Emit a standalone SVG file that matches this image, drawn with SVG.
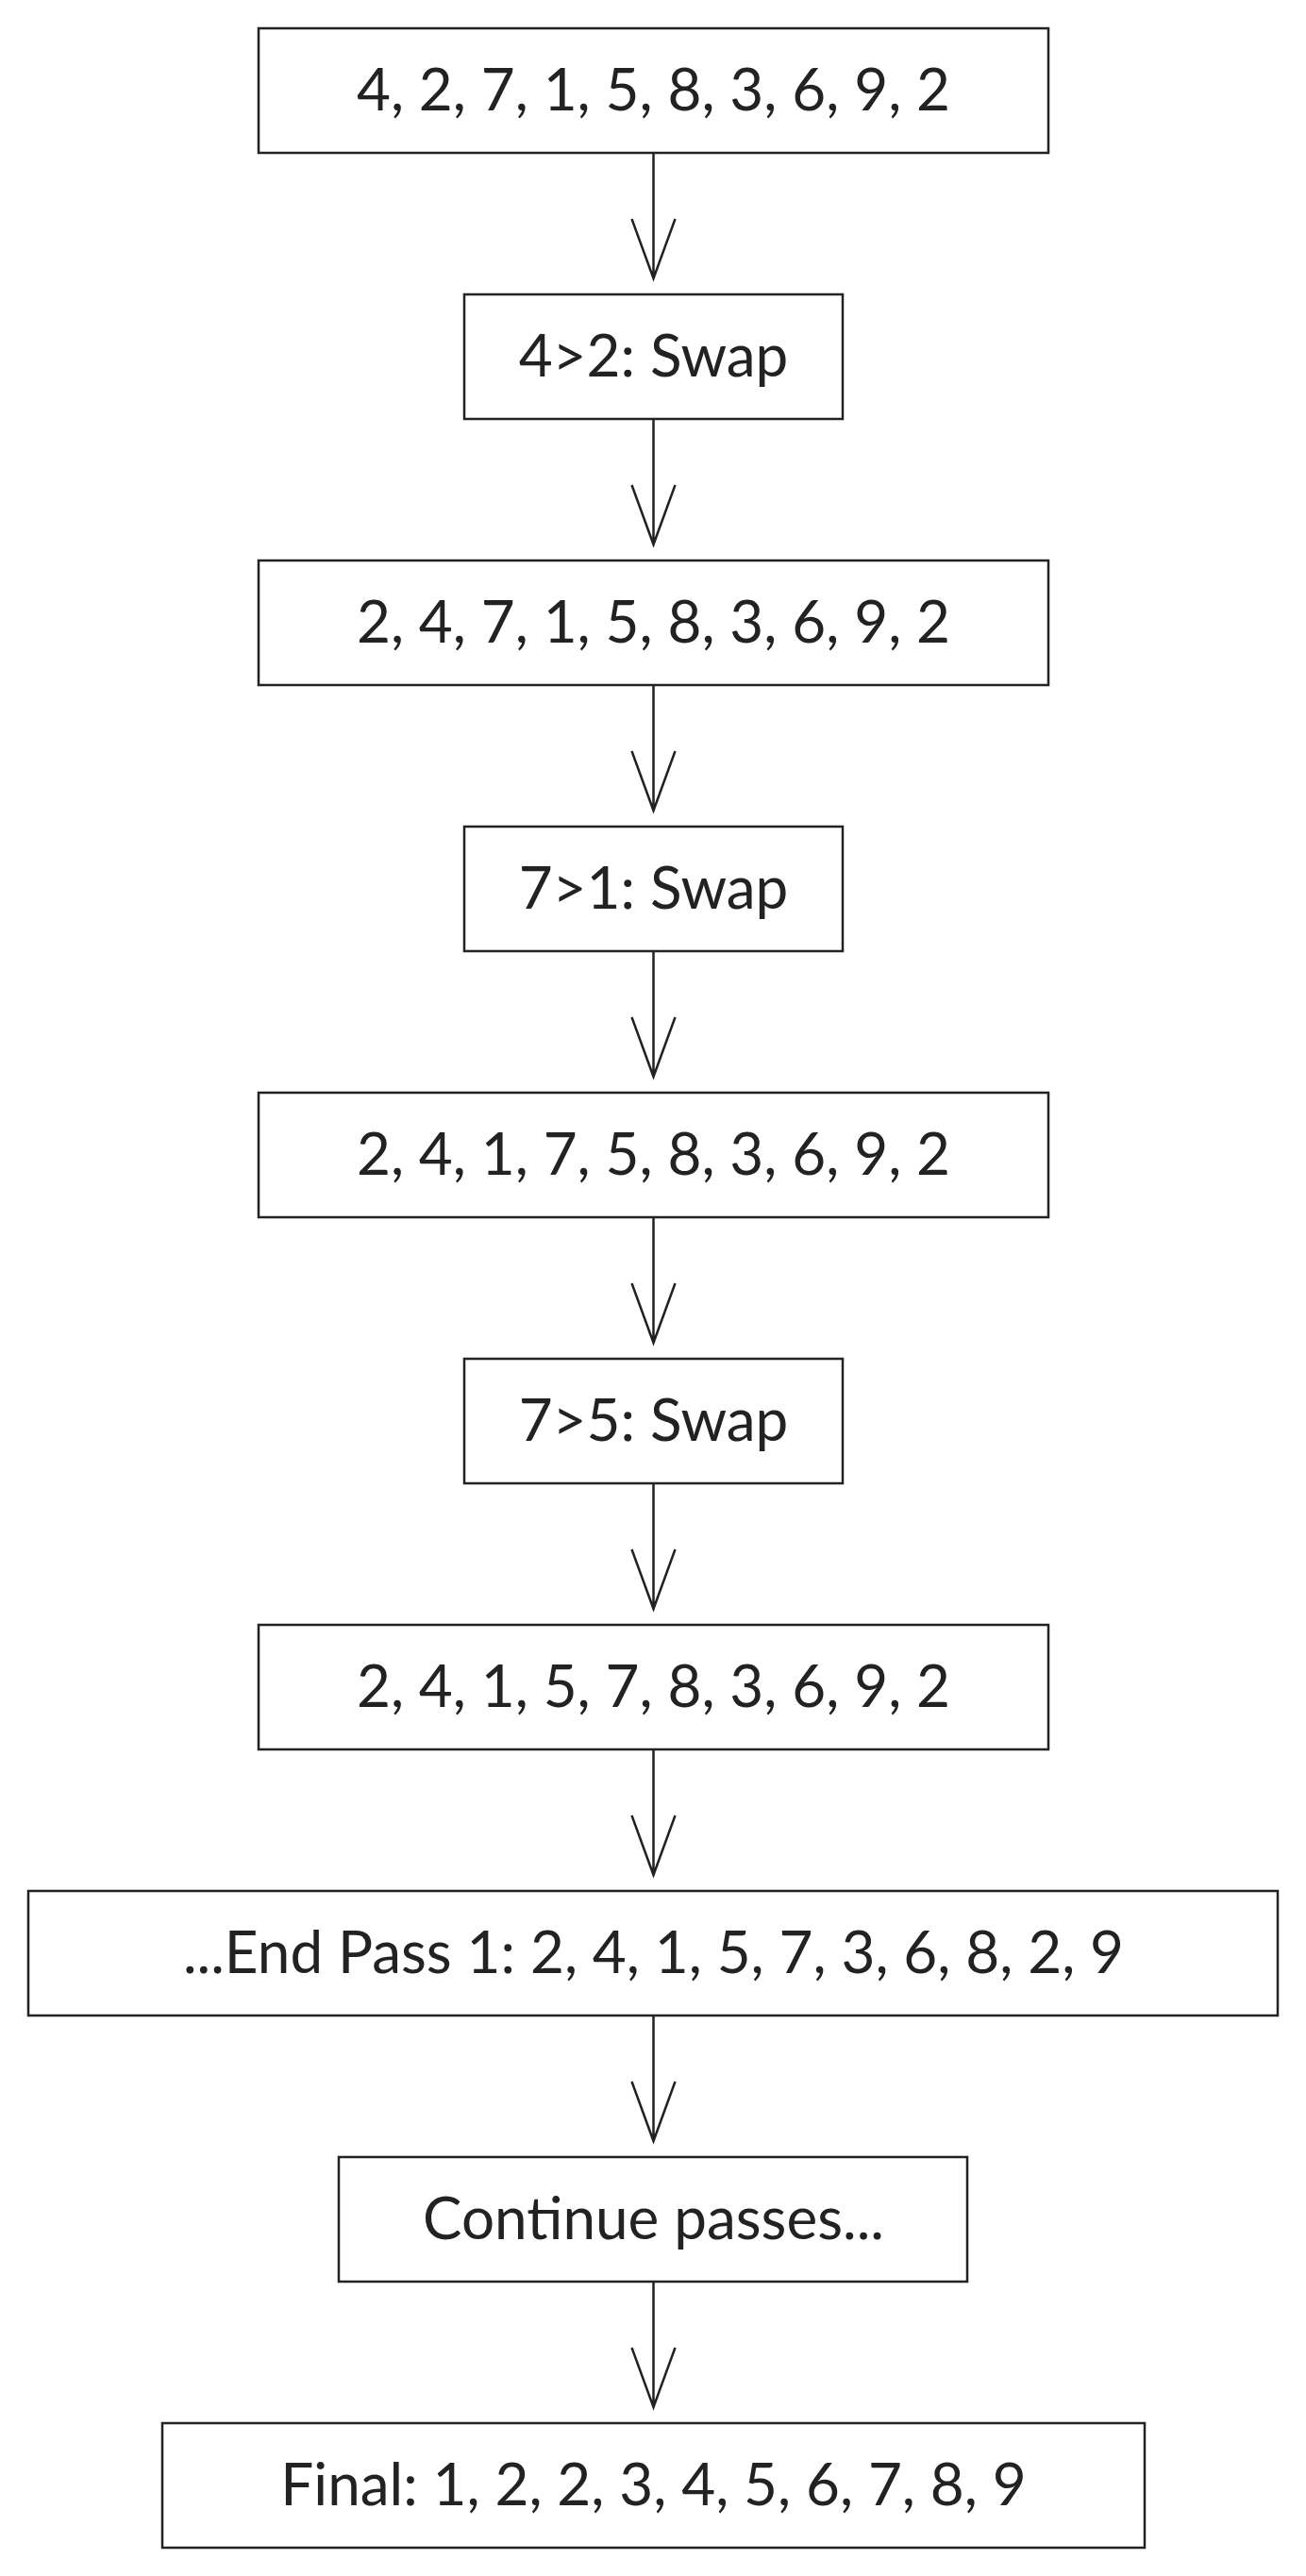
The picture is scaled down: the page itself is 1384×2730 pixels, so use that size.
<svg xmlns="http://www.w3.org/2000/svg" width="1384" height="2730" viewBox="0 0 1384 2730">
<style>
.box{fill:#fff;stroke:#222;stroke-width:2.5}
.t{font-family:Lato,"Open Sans","Noto Sans",sans-serif;font-size:62px;fill:#222;text-anchor:middle}
.c{stroke:#222;stroke-width:2.5;fill:none}
</style>
<rect width="1384" height="2730" fill="#fff"/>
<g id="connectors">
<path class="c" d="M692.5 162V295M669.5 232L692.5 295L715.5 232"/>
<path class="c" d="M692.5 444V577M669.5 514L692.5 577L715.5 514"/>
<path class="c" d="M692.5 726V859M669.5 796L692.5 859L715.5 796"/>
<path class="c" d="M692.5 1008V1141M669.5 1078L692.5 1141L715.5 1078"/>
<path class="c" d="M692.5 1290V1423M669.5 1360L692.5 1423L715.5 1360"/>
<path class="c" d="M692.5 1572V1705M669.5 1642L692.5 1705L715.5 1642"/>
<path class="c" d="M692.5 1854V1987M669.5 1924L692.5 1987L715.5 1924"/>
<path class="c" d="M692.5 2136V2269M669.5 2206L692.5 2269L715.5 2206"/>
<path class="c" d="M692.5 2418V2551M669.5 2488L692.5 2551L715.5 2488"/>
</g>
<g id="n1"><rect class="box" x="274" y="30" width="837" height="132"/><text class="t" x="692.5" y="117">4, 2, 7, 1, 5, 8, 3, 6, 9, 2</text></g>
<g id="n2"><rect class="box" x="492" y="312" width="401" height="132"/><text class="t" x="692.5" y="399">4&gt;2: Swap</text></g>
<g id="n3"><rect class="box" x="274" y="594" width="837" height="132"/><text class="t" x="692.5" y="681">2, 4, 7, 1, 5, 8, 3, 6, 9, 2</text></g>
<g id="n4"><rect class="box" x="492" y="876" width="401" height="132"/><text class="t" x="692.5" y="963">7&gt;1: Swap</text></g>
<g id="n5"><rect class="box" x="274" y="1158" width="837" height="132"/><text class="t" x="692.5" y="1245">2, 4, 1, 7, 5, 8, 3, 6, 9, 2</text></g>
<g id="n6"><rect class="box" x="492" y="1440" width="401" height="132"/><text class="t" x="692.5" y="1527">7&gt;5: Swap</text></g>
<g id="n7"><rect class="box" x="274" y="1722" width="837" height="132"/><text class="t" x="692.5" y="1809">2, 4, 1, 5, 7, 8, 3, 6, 9, 2</text></g>
<g id="n8"><rect class="box" x="30" y="2004" width="1324" height="132"/><text class="t" x="692.5" y="2091">...End Pass 1: 2, 4, 1, 5, 7, 3, 6, 8, 2, 9</text></g>
<g id="n9"><rect class="box" x="359" y="2286" width="666" height="132"/><text class="t" x="692.5" y="2373">Continue passes...</text></g>
<g id="n10"><rect class="box" x="172" y="2568" width="1041" height="132"/><text class="t" x="692.5" y="2655">Final: 1, 2, 2, 3, 4, 5, 6, 7, 8, 9</text></g>
</svg>
